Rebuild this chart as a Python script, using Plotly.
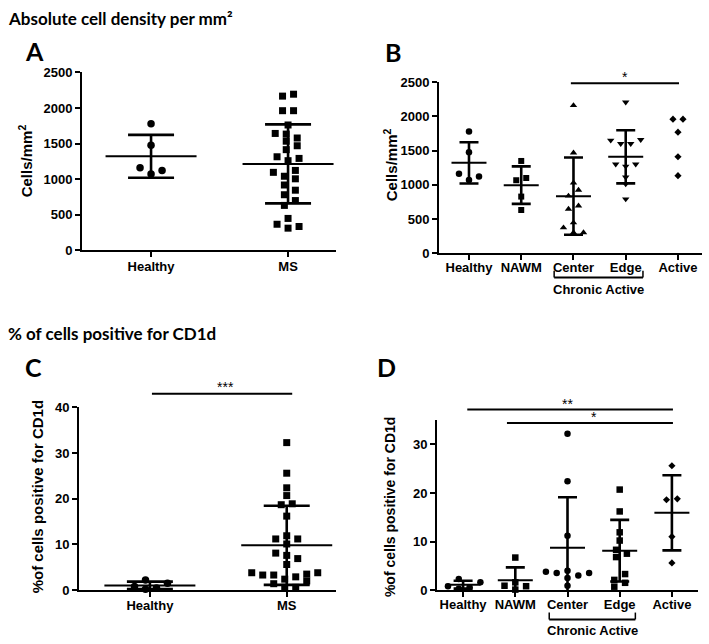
import numpy as np
import plotly.graph_objects as go

W, H = 709, 644

# ---------------- data ----------------
groups_A = ["Healthy", "MS"]
A_healthy = [1780, 1475, 1160, 1070, 1120]
A_ms = [2194, 2167, 1962, 1962, 1761, 1642, 1633, 1578, 1533, 1469, 1414,
        1314, 1291, 1259, 1122, 1095, 1040, 1004, 917, 844, 780, 698, 630,
        447, 365, 310, 333]

groups_B = ["Healthy", "NAWM", "Center", "Edge", "Active"]
B_healthy = [1780, 1475, 1160, 1070, 1120]
B_nawm = [1348, 1066, 1099, 827, 631]
B_center = [2161, 1467, 1028, 836, 922, 693, 645, 445, 373, 301, 301]
B_edge = [2208, 1660, 1600, 1600, 1650, 1300, 1270, 1300, 1110, 1010, 790]
B_active = [1960, 1960, 1769, 1410, 1133]

groups_C = ["Healthy", "MS"]
C_healthy = [2.2, 0.8, 0.2, 0.45, 1.5]
C_ms = [32.3, 25.6, 22.4, 20.7, 18.7, 18.9, 16.2, 11.9, 11.2, 11.2, 10.1,
        8.1, 7.6, 6.9, 5.6, 3.8, 3.3, 3.3, 3.5, 3.8, 2.4, 2.9, 1.4, 2.0,
        0.6, 0.6]

groups_D = ["Healthy", "NAWM", "Center", "Edge", "Active"]
D_healthy = [2.3, 0.8, 0.3, 0.6, 1.6]
D_nawm = [6.7, 0.9, 0.1, 0.8, 1.6]
D_center = [32.2, 22.4, 11.2, 4.0, 3.5, 3.5, 3.8, 3.0, 2.5, 0.9]
D_edge = [20.7, 16.2, 11.9, 10.2, 8.3, 7.5, 6.8, 3.3, 2.1, 1.5, 0.7]
D_active = [25.6, 18.6, 18.8, 11.0, 5.6]

yticks_A = [0, 500, 1000, 1500, 2000, 2500]
yticks_C = [0, 10, 20, 30, 40]
yticks_D = [0, 10, 20, 30]

# ---------------- helpers ----------------
def px_x(p):
    return p / W


def px_y(p):
    return 1 - p / H


def swarm(vals, ypx, diam, step):
    """Greedy beeswarm: returns horizontal pixel offsets."""
    vals = np.asarray(vals, float)
    order = np.argsort(vals, kind="stable")
    cands = [0]
    for m in range(1, 30):
        cands += [m, -m]
    placed = []
    ks = np.zeros(len(vals))
    for i in order:
        y = vals[i] * ypx
        for k in cands:
            if all(not (abs(y - py) < diam and abs(k - pk) * step < diam)
                   for py, pk in placed):
                break
        placed.append((y, k))
        ks[i] = k
    ys = vals * ypx
    comp = [[order[0]]]
    for a, b in zip(order[:-1], order[1:]):
        if ys[b] - ys[a] < diam:
            comp[-1].append(b)
        else:
            comp.append([b])
    for c in comp:
        shift = np.mean(ks[c])
        for i in c:
            ks[i] -= shift
    return ks * step


panels = {
    "A": dict(xd=(82, 336), yd=(67, 249), xr=(-0.504, 1.35), yr=(0, 2500), so=-2),
    "B": dict(xd=(439, 702), yd=(77, 252), xr=(-0.574, 4.46), yr=(0, 2500), so=-4),
    "C": dict(xd=(79, 336), yd=(410, 597), xr=(-0.518, 1.36), yr=(0, 40), so=-3),
    "D": dict(xd=(437, 698), yd=(423, 597), xr=(-0.5, 4.5), yr=(0, 35), so=-4),
}
axis_ids = {"A": ("x", "y"), "B": ("x2", "y2"), "C": ("x3", "y3"), "D": ("x4", "y4")}

fig = go.Figure()

SANS = "Liberation Sans"
TICKFONT = dict(family=SANS, size=13, color="black", weight="bold")


def add_group(panel, idx, vals, symbol, msize, mean_len, cap, show_err=True, step=5.5):
    p = panels[panel]
    xa, ya = axis_ids[panel]
    xppu = (p["xd"][1] - p["xd"][0]) / (p["xr"][1] - p["xr"][0])
    yppu = (p["yd"][1] - p["yd"][0]) / (p["yr"][1] - p["yr"][0])
    offs = swarm(vals, yppu, msize, step) / xppu
    fig.add_trace(go.Scatter(
        x=idx + offs, y=vals, mode="markers", xaxis=xa, yaxis=ya,
        marker=dict(symbol=symbol, size=msize, color="black", line=dict(width=0)),
        cliponaxis=False, showlegend=False, hoverinfo="y"))
    if show_err:
        m = float(np.mean(vals))
        sd = float(np.std(vals, ddof=1))
        # line-ew marker is 1.4 x size long
        fig.add_trace(go.Scatter(
            x=[idx], y=[m], mode="markers", xaxis=xa, yaxis=ya,
            marker=dict(symbol="line-ew", size=mean_len / 1.4, color="black",
                        line=dict(width=2, color="black")),
            error_y=dict(type="data", array=[sd], visible=True, color="black",
                         thickness=2.6, width=cap),
            showlegend=False, hoverinfo="y"))


add_group("A", 0, A_healthy, "circle", 7.5, 91, 23)
add_group("A", 1, A_ms, "square", 7, 91, 23)
add_group("B", 0, B_healthy, "circle", 6.5, 35, 9.5, step=5)
add_group("B", 1, B_nawm, "square", 6, 35, 9.5, step=5)
add_group("B", 2, B_center, "triangle-up", 6.5, 35, 9.5, step=5)
add_group("B", 3, B_edge, "triangle-down", 6.5, 35, 9.5, step=5)
add_group("B", 4, B_active, "diamond", 5.5, 35, 9.5, show_err=False, step=5)
add_group("C", 0, C_healthy, "circle", 7.5, 91, 23)
add_group("C", 1, C_ms, "square", 7, 91, 23)
add_group("D", 0, D_healthy, "circle", 6.5, 35, 9.5, step=5.4)
add_group("D", 1, D_nawm, "square", 6.5, 35, 9.5, step=5.4)
add_group("D", 2, D_center, "circle", 6.5, 35, 9.5, step=5.4)
add_group("D", 3, D_edge, "square", 6.5, 35, 9.5, step=5.4)
add_group("D", 4, D_active, "diamond", 5.5, 35, 9.5, step=5.4)

layout = dict(width=W, height=H, margin=dict(l=0, r=0, t=0, b=0, pad=0),
              paper_bgcolor="white", plot_bgcolor="white", showlegend=False)

cats = {"A": groups_A, "B": groups_B, "C": groups_C, "D": groups_D}
yt = {"A": yticks_A, "B": yticks_A, "C": yticks_C, "D": yticks_D}
for name, p in panels.items():
    xa, ya = axis_ids[name]
    xkey = "xaxis" + xa[1:]
    ykey = "yaxis" + ya[1:]
    common = dict(showline=True, linewidth=2, linecolor="black", ticks="outside",
                  ticklen=5, tickwidth=2, tickcolor="black", showgrid=False,
                  zeroline=False, tickfont=TICKFONT, fixedrange=True)
    layout[xkey] = dict(domain=[px_x(p["xd"][0]), px_x(p["xd"][1])], range=list(p["xr"]),
                        anchor=ya, tickmode="array", tickvals=list(range(len(cats[name]))),
                        ticktext=cats[name], ticklabelstandoff=p["so"], **common)
    layout[ykey] = dict(domain=[px_y(p["yd"][1]), px_y(p["yd"][0])], range=list(p["yr"]),
                        anchor=xa, tickmode="array", tickvals=yt[name],
                        ticktext=[str(v) for v in yt[name]], **common)

fig.update_layout(**layout)

ann = []
shapes = []

HEAD = dict(family="Lato", size=17, color="black", weight="bold")
LET = dict(family="Lato", size=25, color="black", weight="bold")
YT = dict(family=SANS, size=15, color="black", weight="bold")
STAR = dict(family=SANS, size=14, color="black")


def txt(text, x, y, font, xanchor="center", angle=0, xref="paper"):
    ann.append(dict(text=text, x=x, y=y, xref=xref, yref="paper", showarrow=False,
                    xanchor=xanchor, yanchor="middle", font=font, textangle=angle))


txt("Absolute cell density per mm²", px_x(6), px_y(12), HEAD, xanchor="left")
txt("% of cells positive for CD1d", px_x(6), px_y(334), HEAD, xanchor="left")
txt("A", px_x(34), px_y(45), LET)
txt("B", px_x(393), px_y(46), LET)
txt("C", px_x(33), px_y(369), LET)
txt("D", px_x(386), px_y(369), LET)

txt("Cells/mm<sup>2</sup>", px_x(25), px_y(158), YT, angle=-90)
txt("Cells/mm<sup>2</sup>", px_x(390), px_y(162), YT, angle=-90)
txt("%of cells positive for CD1d", px_x(37), px_y(502), YT, angle=-90)
txt("%of cells positive for CD1d", px_x(390), px_y(512), dict(YT, size=14), angle=-90)


def hline(xref, x0, x1, ypx):
    shapes.append(dict(type="line", xref=xref, yref="paper", x0=x0, x1=x1,
                       y0=px_y(ypx), y1=px_y(ypx), line=dict(color="black", width=2)))


def vline(xref, x, y0px, y1px):
    shapes.append(dict(type="line", xref=xref, yref="paper", x0=x, x1=x,
                       y0=px_y(y0px), y1=px_y(y1px), line=dict(color="black", width=1.5)))


hline("x2", 1.95, 4.02, 78)
txt("*", 2.99, px_y(72), STAR, xref="x2")
hline("x3", 0.015, 1.04, 396)
txt("***", 0.55, px_y(389), STAR, xref="x3")
hline("x4", 0.08, 4.02, 412)
txt("**", 2.0, px_y(406), STAR, xref="x4")
hline("x4", 0.84, 4.02, 426)
txt("*", 2.5, px_y(420), STAR, xref="x4")

for xref, x0, x1, ybase, ytext in [("x2", 1.63, 3.33, 277, 289), ("x4", 1.65, 3.30, 627, 638)]:
    hline(xref, x0, x1, ybase)
    vline(xref, x0, ybase, ybase - 7)
    vline(xref, x1, ybase, ybase - 7)
    txt("Chronic Active", (x0 + x1) / 2, px_y(ytext),
        dict(family=SANS, size=13, color="black", weight="bold"), xref=xref)

fig.update_layout(annotations=ann, shapes=shapes)
fig.write_html("out.html", config={"displayModeBar": False},
               post_script="document.body.style.margin='0';document.body.style.overflow='hidden';")
